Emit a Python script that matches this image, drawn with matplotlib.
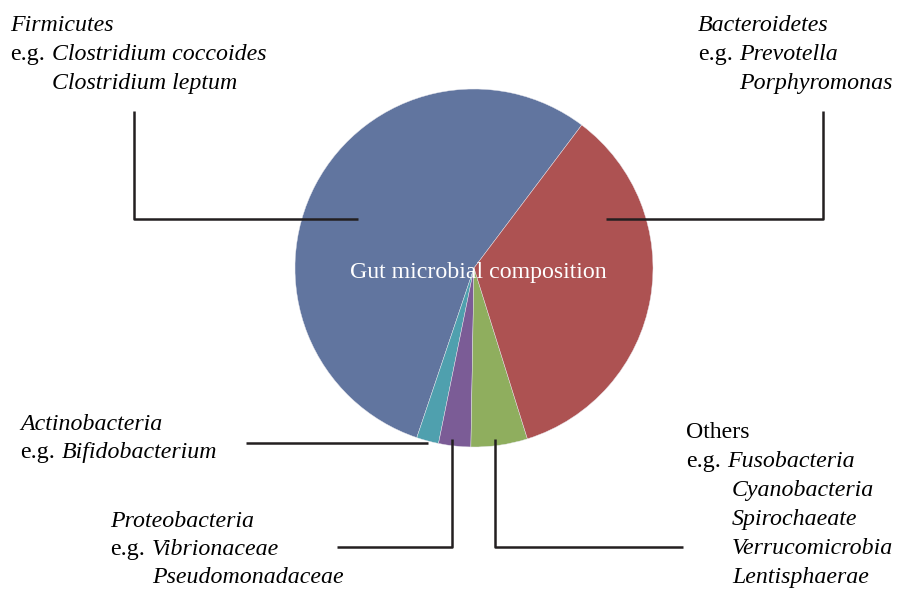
import matplotlib
matplotlib.use("Agg")
import matplotlib.pyplot as plt

# phylum shares of the gut microbiota (percent)
phyla = ['Firmicutes', 'Actinobacteria', 'Proteobacteria', 'Others', 'Bacteroidetes']
shares = [55.1, 2.0, 2.9, 5.1, 34.9]
colours = ['#61759f', '#4fa0ae', '#7b5c96', '#8fae5e', '#ad5252']

plt.rcParams['font.family'] = ['Liberation Serif', 'DejaVu Serif']
fs = 17.2

fig = plt.figure(figsize=(8.99, 5.89), dpi=100)
ax = fig.add_axes([0, 0, 1, 1])

# y axis is inverted, so go clockwise in data to get counterclockwise on screen
ax.pie(shares, colors=colours, center=(474, 268), radius=179,
       startangle=-53, counterclock=False, frame=True,
       wedgeprops=dict(edgecolor='#e8e8ee', linewidth=0.3))
ax.set_xlim(0, 899)
ax.set_ylim(589, 0)
ax.axis('off')

ax.text(478, 278, 'Gut microbial composition', color='white', fontsize=fs,
        ha='center', va='baseline')


def label(x, y, head, head_italic, x_eg, items, x_items, step=29):
    ax.text(x, y, head, fontsize=fs, style='italic' if head_italic else 'normal',
            va='baseline')
    for i, name in enumerate(items):
        yy = y + step * (i + 1)
        if i == 0:
            ax.text(x, yy, 'e.g.', fontsize=fs, va='baseline')
            ax.text(x_eg, yy, name, fontsize=fs, style='italic', va='baseline')
        else:
            ax.text(x_items, yy, name, fontsize=fs, style='italic', va='baseline')


label(10, 31, 'Firmicutes', True, 52,
      ['Clostridium coccoides', 'Clostridium leptum'], 52)
label(698, 31, 'Bacteroidetes', True, 739,
      ['Prevotella', 'Porphyromonas'], 739)
label(20, 430, 'Actinobacteria', True, 62, ['Bifidobacterium'], 62, step=28)
label(110, 527, 'Proteobacteria', True, 152,
      ['Vibrionaceae', 'Pseudomonadaceae'], 152, step=28)
label(686, 438, 'Others', False, 727,
      ['Fusobacteria', 'Cyanobacteria', 'Spirochaeate', 'Verrucomicrobia',
       'Lentisphaerae'], 732)

# leader lines
lc = dict(color='#231f20', linewidth=1.8, solid_capstyle='butt')
ax.plot([134, 134, 358], [111, 219, 219], **lc)
ax.plot([823, 823, 606], [111, 219, 219], **lc)
ax.plot([246, 428], [443, 443], **lc)
ax.plot([452, 452, 337], [439, 547, 547], **lc)
ax.plot([495, 495, 683], [439, 547, 547], **lc)

fig.savefig('out.png', dpi=100)
